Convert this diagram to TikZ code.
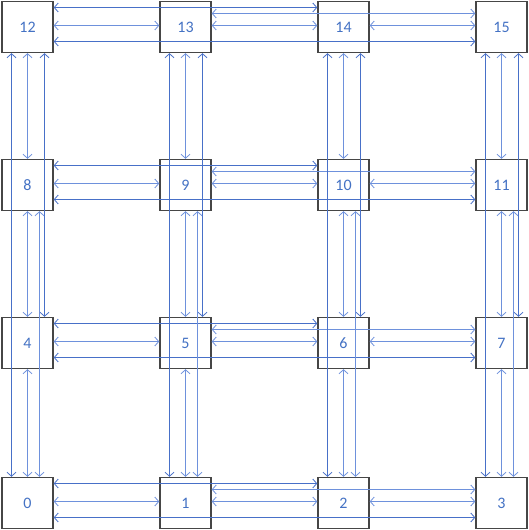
\documentclass[tikz,border=0pt]{standalone}
\usepackage{fontspec}
\setmainfont{Carlito}
\usetikzlibrary{arrows.meta}
\definecolor{dk}{RGB}{68,114,196}
\definecolor{lt}{RGB}{110,145,220}
\definecolor{md}{RGB}{72,112,200}
\definecolor{bd}{RGB}{70,70,70}
\begin{document}
\begin{tikzpicture}[x=1pt,y=1pt,
  box/.style={draw=bd, line width=1.4pt, fill=white, minimum width=51pt, minimum height=51pt,
    inner sep=0pt, font=\fontsize{16}{19}\selectfont, text=dk},
  lnk/.style={line width=1.3pt,
    {Straight Barb[length=4pt,width=9pt,line width=0.8pt]}-{Straight Barb[length=4pt,width=9pt,line width=0.8pt]}},
]
\useasboundingbox (0,0) rectangle (529,530);
% boxes
\foreach \n/\x/\y in {0/27.5/27,1/185.5/27,2/343.5/27,3/501.5/27,
                      4/27.5/187,5/185.5/187,6/343.5/187,7/501.5/187,
                      8/27.5/345,9/185.5/345,10/343.5/345,11/501.5/345,
                      12/27.5/503,13/185.5/503,14/343.5/503,15/501.5/503}
  \node[box] (n\n) at (\x,\y) {\n};
% row links
\foreach \a/\b/\c/\d in {0/1/2/3,4/5/6/7,8/9/10/11,12/13/14/15}{
  \draw[lnk,lt] ([yshift=1.5]n\a.east) -- ([yshift=1.5]n\b.west);
  \draw[lnk,lt] ([yshift=1.5]n\b.east) -- ([yshift=1.5]n\c.west);
  \draw[lnk,lt] ([yshift=1.5]n\c.east) -- ([yshift=1.5]n\d.west);
  \draw[lnk,md] ([yshift=19.5]n\a.east) -- ([yshift=19.5]n\c.west);
  \draw[lnk,lt] ([yshift=13.5]n\b.east) -- ([yshift=13.5]n\d.west);
  \draw[lnk,md] ([yshift=-14.5]n\a.east) -- ([yshift=-14.5]n\d.west);
}
% column links
\foreach \t/\u/\v/\w in {12/8/4/0,13/9/5/1,14/10/6/2,15/11/7/3}{
  \draw[lnk,lt] (n\t.south) -- (n\u.north);
  \draw[lnk,lt] (n\u.south) -- (n\v.north);
  \draw[lnk,lt] (n\v.south) -- (n\w.north);
  \draw[lnk,md] ([xshift=17]n\t.south) -- ([xshift=17]n\v.north);
  \draw[lnk,lt] ([xshift=12]n\u.south) -- ([xshift=12]n\w.north);
  \draw[lnk,md] ([xshift=-16]n\t.south) -- ([xshift=-16]n\w.north);
}
\end{tikzpicture}
\end{document}
